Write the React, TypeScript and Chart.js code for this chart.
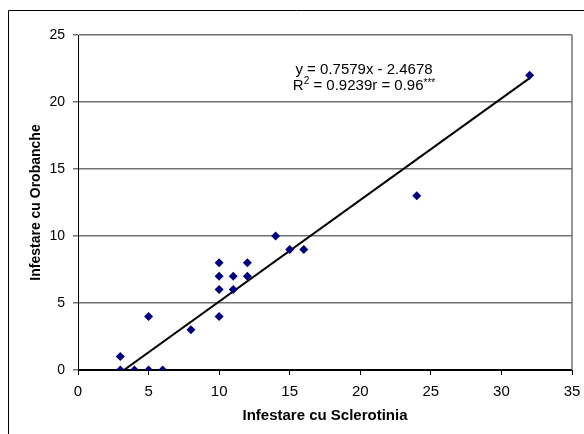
import React, { useEffect, useRef } from "react";
import { Chart, registerables } from "chart.js";

Chart.register(...registerables);

// Data
const sclerotinia = [3, 3, 4, 5, 6, 5, 8, 10, 10, 10, 10, 11, 11, 12, 12, 14, 15, 16, 24, 32];
const orobanche = [1, 0, 0, 0, 0, 4, 3, 8, 7, 6, 4, 7, 6, 8, 7, 10, 9, 9, 13, 22];

// Linear trendline
const slope = 0.7579;
const intercept = -2.4678;
const trendStartX = -intercept / slope; // where the line meets y = 0
const trendEndX = 32;

const xMin = 0, xMax = 35, xStep = 5;
const yMin = 0, yMax = 25, yStep = 5;

const xTitle = "Infestare cu Sclerotinia";
const yTitle = "Infestare cu Orobanche";
const eqLine1 = "y = 0.7579x - 2.4678";
const eqR = "R";
const eqSup = "2";
const eqRest = " = 0.9239r = 0.96";
const eqStars = "***";

const FONT = '"Liberation Sans", Arial, sans-serif';

const framePlugin = {
  id: "frame",
  beforeDraw(chart: any) {
    const { ctx, width, height } = chart;
    ctx.save();
    ctx.fillStyle = "#ffffff";
    ctx.fillRect(0, 0, width, height);
    ctx.strokeStyle = "#000000";
    ctx.lineWidth = 1;
    ctx.beginPath();
    ctx.moveTo(8.5, height + 5);
    ctx.lineTo(8.5, 10.5);
    ctx.lineTo(width + 5, 10.5);
    ctx.stroke();
    ctx.restore();
  },
  beforeDatasetsDraw(chart: any) {
    const { ctx, chartArea } = chart;
    ctx.save();
    ctx.strokeStyle = "#707070";
    ctx.lineWidth = 1.5;
    ctx.beginPath();
    ctx.moveTo(chartArea.right, chartArea.top);
    ctx.lineTo(chartArea.right, chartArea.bottom);
    ctx.stroke();
    ctx.restore();
  },
  afterDraw(chart: any) {
    const { ctx, chartArea } = chart;
    const cx = chartArea.left + (chartArea.right - chartArea.left) * 0.579;
    const y1 = chartArea.top + 35;
    const y2 = y1 + 16;
    ctx.save();
    ctx.fillStyle = "#000000";
    ctx.textBaseline = "middle";
    const big = `15px ${FONT}`;
    const small = `10px ${FONT}`;
    ctx.font = big;
    ctx.textAlign = "center";
    ctx.fillText(eqLine1, cx, y1);
    ctx.textAlign = "left";
    ctx.font = big;
    const wR = ctx.measureText(eqR).width;
    const wRest = ctx.measureText(eqRest).width;
    ctx.font = small;
    const wSup = ctx.measureText(eqSup).width;
    const wStars = ctx.measureText(eqStars).width;
    const total = wR + wSup + wRest + wStars;
    let x = cx - total / 2;
    ctx.font = big;
    ctx.fillText(eqR, x, y2);
    x += wR;
    ctx.font = small;
    ctx.fillText(eqSup, x, y2 - 5);
    x += wSup;
    ctx.font = big;
    ctx.fillText(eqRest, x, y2);
    x += wRest;
    ctx.font = small;
    ctx.fillText(eqStars, x, y2 - 3);
    ctx.restore();
  },
};

export default function App() {
  const ref = useRef<HTMLCanvasElement | null>(null);

  useEffect(() => {
    if (!ref.current) return;
    const points = sclerotinia.map((x, i) => ({ x, y: orobanche[i] }));
    const trend = [trendStartX, trendEndX].map((x) => ({ x, y: slope * x + intercept }));
    const chart = new Chart(ref.current, {
      type: "scatter",
      data: {
        datasets: [
          {
            label: "data",
            data: points,
            pointStyle: "rectRot",
            pointRadius: 4.5,
            pointHoverRadius: 4.5,
            backgroundColor: "#000080",
            borderColor: "#000080",
            borderWidth: 0,
            showLine: false,
          },
          {
            label: "trend",
            data: trend,
            showLine: true,
            borderColor: "#000000",
            borderWidth: 2,
            pointRadius: 0,
            fill: false,
          },
        ],
      },
      options: {
        responsive: false,
        animation: false,
        events: [],
        layout: { padding: { top: 35, right: 12, left: 0, bottom: 0 } },
        plugins: {
          legend: { display: false },
          tooltip: { enabled: false },
        },
        scales: {
          x: {
            type: "linear",
            min: xMin,
            max: xMax,
            afterFit: (s: any) => { s.height = 64; s.paddingRight = 0; s.paddingLeft = 0; },
            ticks: { stepSize: xStep, color: "#000", font: { family: FONT, size: 15 }, padding: 8, maxRotation: 0 },
            grid: { drawOnChartArea: false, drawTicks: true, tickLength: 5, tickColor: "#000", tickWidth: 1 },
            border: { display: true, color: "#000", width: 1 },
            title: { display: true, text: xTitle, color: "#000", font: { family: FONT, size: 15, weight: "bold" }, padding: { top: 0, bottom: 9 } },
          },
          y: {
            type: "linear",
            min: yMin,
            max: yMax,
            afterFit: (s: any) => { s.width = 78; s.paddingTop = 0; s.paddingBottom = 0; },
            ticks: { stepSize: yStep, color: "#000", font: { family: FONT, size: 14 }, padding: 8 },
            grid: {
              color: (c: any) => (c.tick && c.tick.value === 0 ? "#000" : "#707070"),
              lineWidth: 1.5,
              drawTicks: true,
              tickLength: 5,
              tickColor: "#707070",
              tickWidth: 1.5,
            },
            border: { display: true, color: "#000", width: 1 },
            title: { display: true, text: yTitle, color: "#000", font: { family: FONT, size: 14, weight: "bold" }, padding: { top: 28, bottom: 0 } },
          },
        },
      },
      plugins: [framePlugin],
    });
    return () => chart.destroy();
  }, []);

  return (
    <div style={{ position: "absolute", left: 0, top: 0, width: 584, height: 434, overflow: "hidden", background: "#fff" }}>
      <canvas ref={ref} width={584} height={434} style={{ display: "block" }} />
    </div>
  );
}
